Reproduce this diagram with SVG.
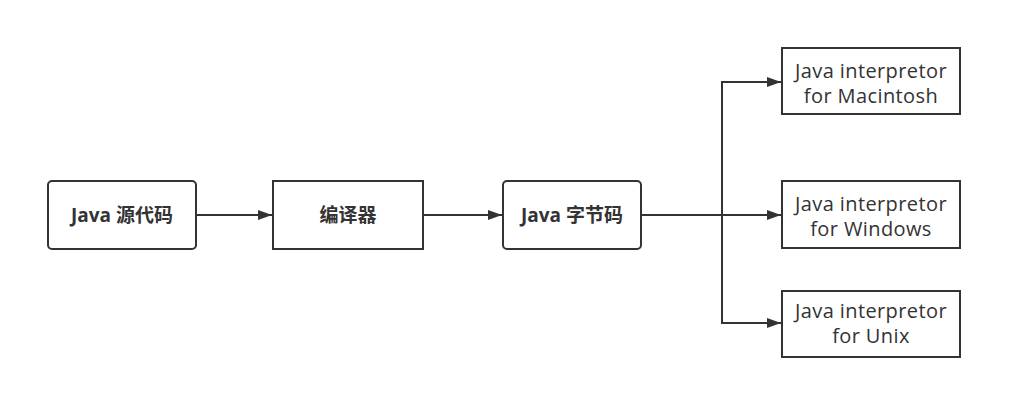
<svg xmlns="http://www.w3.org/2000/svg" width="1022" height="419" viewBox="0 0 1022 419">
<style>
.box{fill:#fff;stroke:#333;stroke-width:2}
.b{font-family:"Open Sans","Noto Sans CJK SC",sans-serif;font-weight:bold;font-size:19px;fill:#333;text-anchor:middle;dominant-baseline:central}
.r{font-family:"Open Sans","Noto Sans CJK SC",sans-serif;font-size:20px;letter-spacing:0.4px;fill:#333;text-anchor:middle;dominant-baseline:central}
.c{fill:none;stroke:#333;stroke-width:2}
</style>
<defs>
<marker id="arr" viewBox="0 0 14 10" refX="14" refY="5" markerWidth="14" markerHeight="10" markerUnits="userSpaceOnUse" orient="auto">
<path d="M0,0 L14,5 L0,10 z" fill="#333"/>
</marker>
</defs>
<rect width="1022" height="419" fill="#fff"/>
<g id="connectors">
<path class="c" d="M196,215 L272,215" marker-end="url(#arr)"/>
<path class="c" d="M423,215 L502,215" marker-end="url(#arr)"/>
<path class="c" d="M641,215 L781,215" marker-end="url(#arr)"/>
<path class="c" d="M722,215 L722,82 L781,82" marker-end="url(#arr)"/>
<path class="c" d="M722,215 L722,323 L781,323" marker-end="url(#arr)"/>
</g>
<g id="n1"><rect class="box" x="48" y="181" width="148" height="68" rx="4"/><text class="b" x="122" y="215">Java 源代码</text></g>
<g id="n2"><rect class="box" x="273" y="181" width="150" height="68"/><text class="b" x="348" y="215">编译器</text></g>
<g id="n3"><rect class="box" x="503" y="181" width="138" height="68" rx="4"/><text class="b" x="572" y="215">Java 字节码</text></g>
<g id="n4"><rect class="box" x="782" y="48" width="178" height="66"/><text class="r" x="871" y="70">Java interpretor</text><text class="r" x="871" y="95">for Macintosh</text></g>
<g id="n5"><rect class="box" x="782" y="181" width="178" height="67"/><text class="r" x="871" y="203">Java interpretor</text><text class="r" x="871" y="228">for Windows</text></g>
<g id="n6"><rect class="box" x="782" y="291" width="178" height="66"/><text class="r" x="871" y="310">Java interpretor</text><text class="r" x="871" y="335">for Unix</text></g>
</svg>
